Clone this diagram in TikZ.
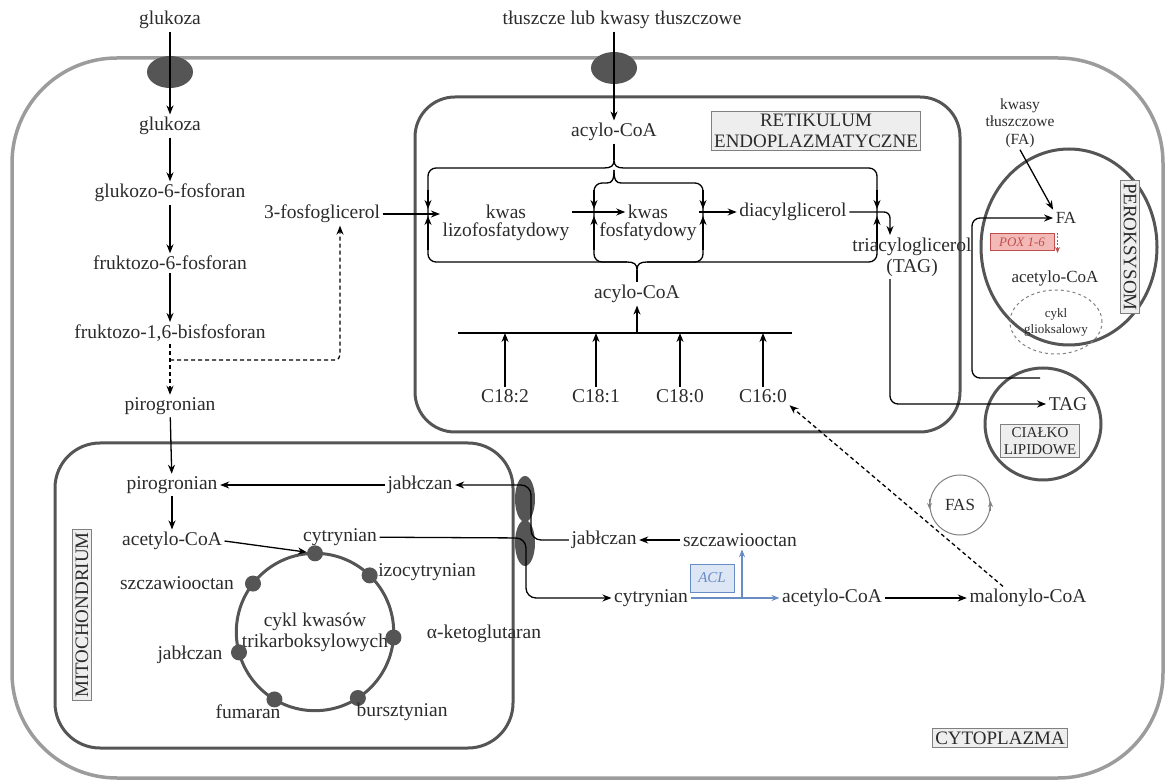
\documentclass[tikz,border=0pt]{standalone}
\usepackage{fontspec}
\setmainfont{Liberation Serif}
\usepackage{tikz}
\usetikzlibrary{arrows.meta,shapes.geometric}

\definecolor{txt}{HTML}{2B2B2B}
\definecolor{orggray}{HTML}{555555}
\definecolor{cellgray}{HTML}{9C9C9C}
\definecolor{boxfill}{HTML}{EEEEEE}
\definecolor{aclblue}{HTML}{6A8CC4}
\definecolor{aclfill}{HTML}{DCE6F5}
\definecolor{poxred}{HTML}{C0504F}
\definecolor{poxfill}{HTML}{F2B9B7}

\tikzset{
  lbl/.style={font=\fontsize{19.5}{21}\selectfont, text=txt, inner sep=2.5pt},
  smalllbl/.style={font=\fontsize{15.5}{17.5}\selectfont, text=txt, inner sep=2pt},
  tagbox/.style={draw=gray, fill=boxfill, line width=1.2pt, text=txt, inner sep=3pt,
    font=\fontsize{19}{21}\selectfont},
  arr/.style={-{Stealth[length=9pt,width=7pt]}, line width=1.3pt},
  dasharr/.style={arr, dash pattern=on 4pt off 3pt},
  loopline/.style={line width=1.3pt},
  cellline/.style={draw=cellgray, line width=3.5pt},
  orgline/.style={draw=orggray, line width=3pt},
  porter/.style={ellipse, fill=orggray, draw=none},
  tcadot/.style={circle, fill=orggray, minimum size=16pt, inner sep=0pt},
  poxbox/.style={draw=poxred, fill=poxfill, line width=1pt, text=poxred, inner sep=2pt,
    minimum width=64pt, minimum height=17pt, font=\fontsize{13}{15}\selectfont\itshape},
  poxarr/.style={-{Stealth[length=6pt,width=5pt]}, draw=poxred, line width=1pt, dash pattern=on 2pt off 1.5pt},
  aclbox/.style={draw=aclblue, fill=aclfill, line width=1pt, text=aclblue, inner sep=2pt,
    minimum width=44pt, minimum height=28pt, font=\fontsize{15}{17}\selectfont\itshape},
  aclarr/.style={-{Stealth[length=8pt,width=6pt]}, draw=aclblue, line width=1.2pt},
  fasarr/.style={-{Stealth[length=6pt,width=5pt]}, draw=gray, line width=1pt},
  glyoxring/.style={ellipse, draw=gray, dashed, line width=1pt, minimum width=92pt,
    minimum height=64pt, text=txt, inner sep=0pt, font=\fontsize{13}{16}\selectfont},
}

\begin{document}
\begin{tikzpicture}[x=1pt,y=-1pt]
    \useasboundingbox (0,0) rectangle (1168,783);

    % cell and organelles
    \draw[cellline, rounded corners=105pt] (12,58) rectangle (1163,778);
    \draw[orgline, rounded corners=40pt] (415,97) rectangle (960,432);
    \draw[orgline, rounded corners=45pt] (55,443) rectangle (513,748);

    % transporters
    \node[porter, minimum width=46pt, minimum height=32pt] (gport) at (170,72) {};
    \node[porter, minimum width=46pt, minimum height=32pt] (fport) at (614,68) {};
    \node[porter, minimum width=20pt, minimum height=46pt] (mport1) at (525,499) {};
    \node[porter, minimum width=20pt, minimum height=46pt] (mport2) at (525,543) {};

    % glycolysis
    \node[lbl] (gluout) at (170,20) {glukoza};
    \node[lbl] (glu) at (170,126) {glukoza};
    \node[lbl] (g6p) at (170,193) {glukozo-6-fosforan};
    \node[lbl] (f6p) at (170,263) {fruktozo-6-fosforan};
    \node[lbl] (f16bp) at (170,333) {fruktozo-1,6-bisfosforan};
    \node[lbl] (piro) at (170,406) {pirogronian};
    \node[lbl] (g3p) at (322,214) {3-fosfoglicerol};

    \draw[arr] (gluout) -- (glu);
    \draw[arr] (glu) -- (g6p);
    \draw[arr] (g6p) -- (f6p);
    \draw[arr] (f6p) -- (f16bp);
    \draw[dasharr] (f16bp) -- (piro);
    \coordinate (gsplit) at (170,360);
    \draw[dasharr, rounded corners=5pt] (gsplit) -| ([xshift=18pt]g3p.south);

    % endoplasmic reticulum
    \node[tagbox, align=center] (erlabel) at (816,131) {RETIKULUM\\ENDOPLAZMATYCZNE};
    \node[lbl] (fatout) at (622,20) {tłuszcze lub kwasy tłuszczowe};
    \node[lbl] (acyltop) at (614,132) {acylo-CoA};
    \draw[arr] (fatout.south -| acyltop) -- (acyltop);

    % outer loop
    \draw[loopline, rounded corners=8pt] (604,168) -- (428,168) -- (428,262) -- (627,262);
    \draw[loopline, rounded corners=8pt] (647,262) -- (877,262) -- (877,168) -- (624,168);
    \draw[loopline] (604,168) .. controls (611,168) and (614,166) .. (614,160)
        .. controls (614,166) and (617,168) .. (624,168);
    \draw[loopline] (627,262) .. controls (634,262) and (637,264) .. (637,270)
        .. controls (637,264) and (640,262) .. (647,262);
    \draw[loopline] (acyltop) -- (614,160);
    % inner loop
    \draw[loopline, rounded corners=8pt] (607,183) -- (594,183) -- (594,262) -- (627,262);
    \draw[loopline, rounded corners=8pt] (621,183) -- (703,183) -- (703,262) -- (647,262);
    \draw[loopline] (607,183) .. controls (612,183) and (614,180) .. (614,170);
    \draw[loopline] (621,183) .. controls (616,183) and (614,180) .. (614,170);
    \foreach \x in {428,594,703,877} {
        \draw[arr] (\x,190) -- (\x,209);
        \draw[arr] (\x,250) -- (\x,216);
    }

    \node[lbl] (lizok) at (506,212) {kwas};
    \node[lbl] (lizob) at (506,232) {lizofosfatydowy};
    \node[lbl] (fosfk) at (648,212) {kwas};
    \node[lbl] (fosfb) at (648,232) {fosfatydowy};
    \node[lbl] (diacyl) at (793,212) {diacylglicerol};
    \node[lbl, align=center] (triacyl) at (912,257) {triacyloglicerol\\(TAG)};

    \draw[arr] (g3p.east) -- (g3p.east -| lizob.west);
    \draw[arr] (lizob.east |- lizok) -- (fosfk);
    \draw[arr] (fosfb.east |- fosfk) -- (diacyl);
    \draw[arr, rounded corners=6pt] (diacyl) -| ([xshift=-22pt]triacyl.north);

    \node[lbl] (acylbot) at (637,294) {acylo-CoA};
    \draw[loopline] (637,270) -- (acylbot);
    \coordinate (barmid) at (637,333);
    \draw[loopline] (458,333) -- (792,333);
    \draw[arr] (barmid) -- (acylbot);
    \foreach \n/\x/\lab in {c182/505/C18:2, c181/596/C18:1, c180/680/C18:0, c160/763/C16:0} {
        \node[lbl] (\n) at (\x,396) {\lab};
        \draw[arr] (\n) -- (\n |- barmid);
    }

    % peroxisome
    \node[ellipse, orgline, minimum width=176pt, minimum height=196pt] (perox) at (1069,247) {};
    \node[tagbox, rotate=-90] (peroxlabel) at (1130,247) {PEROKSYSOM};
    \node[smalllbl, align=center] (fain) at (1020,123) {kwasy\\tłuszczowe\\(FA)};
    \node[lbl, font=\fontsize{17}{19}\selectfont] (fa) at (1066,218) {FA};
    \draw[arr] (fain.south) -- (fa.north west);
    \node[poxbox] (pox) at (1022,242) {POX 1-6};
    \draw[poxarr] ([xshift=3pt]pox.north east) -- ++(0,20);
    \node[lbl, font=\fontsize{17}{19}\selectfont] (acetp) at (1055,278) {acetylo-CoA};
    \node[glyoxring, align=center] (glyox) at (1056,322) {cykl\\glioksalowy};

    % lipid body
    \node[ellipse, orgline, minimum width=116pt, minimum height=112pt] (ld) at (1043,424) {};
    \node[lbl] (tagld) at (1068,404) {TAG};
    \node[tagbox, align=center, font=\fontsize{15}{17}\selectfont] (ldlabel) at (1040,441) {CIAŁKO\\LIPIDOWE};
    \draw[arr, rounded corners=8pt] ([xshift=-22pt]triacyl.south) |- (tagld);
    \coordinate (ldin) at (1040,378);
    \draw[arr, rounded corners=8pt] (ldin) -- (972,378) |- (fa);

    % FAS
    \node[circle, draw=gray, line width=1pt, minimum size=60pt, inner sep=0pt, text=txt,
        font=\fontsize{17}{19}\selectfont] (fas) at (960,505) {FAS};
    \draw[fasarr] ([yshift=6pt]fas.west) -- ([yshift=-4pt]fas.west);
    \draw[fasarr] ([yshift=-6pt]fas.east) -- ([yshift=4pt]fas.east);

    % mitochondrium
    \node[tagbox, rotate=90] (mitolabel) at (82,615) {MITOCHONDRIUM};
    \node[lbl] (pirom) at (172,485) {pirogronian};
    \node[lbl] (jabm) at (420,485) {jabłczan};
    \node[lbl] (acetm) at (172,541) {acetylo-CoA};
    \node[lbl] (cytm) at (340,537) {cytrynian};
    \node[circle, draw=orggray, line width=3pt, minimum size=156pt, inner sep=0pt, outer sep=0pt,
        align=center, lbl] (tca) at (315,632) {cykl kwasów\\trikarboksylowych};
    \foreach \a/\n in {90/cit, 46/izo, 356/akg, 303/bur, 239/fum, 195/jab, 142/oaa} {
        \node[tcadot] (d\n) at (tca.\a) {};
    }
    \node[lbl] (izol) at (427,572) {izocytrynian};
    \node[lbl] (akgl) at (484,634) {α-ketoglutaran};
    \node[lbl] (burl) at (402,712) {bursztynian};
    \node[lbl] (fuml) at (248,712) {fumaran};
    \node[lbl] (jabl) at (190,655) {jabłczan};
    \node[lbl] (oaal) at (177,583) {szczawiooctan};

    \draw[arr] (piro) -- (pirom);
    \draw[arr] (pirom) -- (acetm);
    \draw[arr] (jabm) -- (pirom);
    \draw[arr] (acetm.east) -- (dcit);

    % cytoplasm
    \node[lbl] (jabc) at (604,540) {jabłczan};
    \node[lbl] (oaac) at (740,540) {szczawiooctan};
    \node[lbl] (cytc) at (651,598) {cytrynian};
    \node[lbl] (acetc) at (832,598) {acetylo-CoA};
    \node[lbl] (malc) at (1028,598) {malonylo-CoA};
    \node[aclbox] (acl) at (712,578) {ACL};

    \draw[arr] (oaac) -- (jabc);
    \draw[arr, rounded corners=10pt] (jabc) -- (531,540) |- (jabm);
    \draw[arr, rounded corners=10pt] (cytm) -- (526,538) |- (cytc);
    \coordinate (aclfork) at (742,598);
    \draw[aclarr] (cytc) -- (acetc);
    \draw[aclarr] (aclfork) -- (aclfork |- oaac.south);
    \draw[arr] (acetc) -- (malc);
    \draw[dasharr] ([xshift=-25pt]malc.north) -- (c160.south east);

    \node[tagbox] (cytolabel) at (1000,738) {CYTOPLAZMA};
\end{tikzpicture}
\end{document}
